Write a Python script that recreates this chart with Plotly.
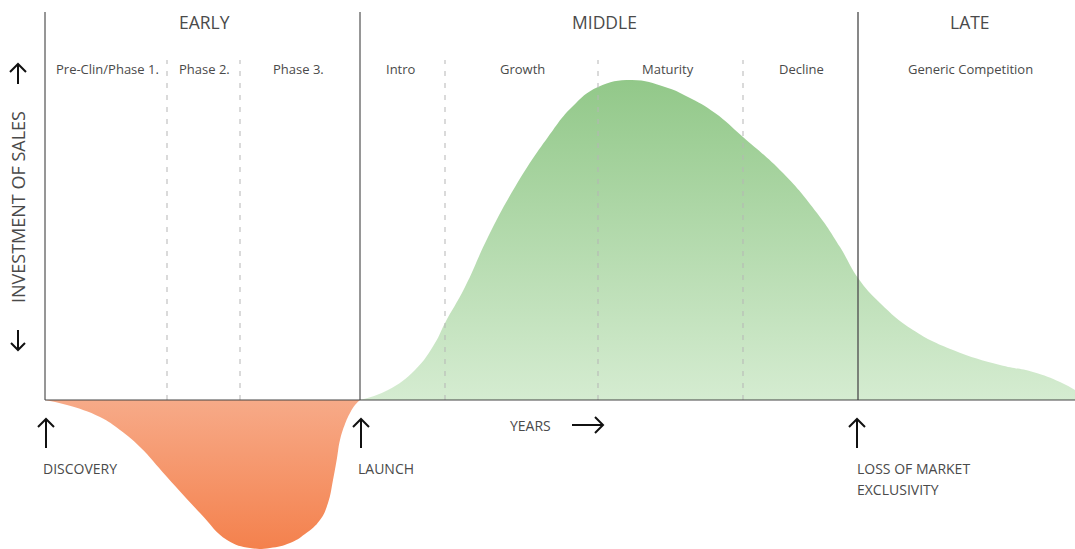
import plotly.graph_objects as go

W, H = 1075, 549
# coordinate convention: x in "time units" (0 = discovery), y in "value units" (0 = baseline)
X0_PX, Y0_PX, SC = 45, 400, 10.0

# ---- data ----
sales_x = [31.5, 34.3, 37.0, 39.0, 40.0, 42.0, 44.3, 47.0, 50.3, 52.7, 55.3, 58.7, 62.0, 64.3,
           67.0, 69.8, 73.8, 77.2, 79.5, 81.3, 83.5, 86.8, 90.8, 95.5, 98.8, 101.5, 103.0]
sales_y = [0.0, 1.0, 3.0, 5.7, 7.7, 11.3, 16.3, 21.3, 26.3, 29.3, 31.3, 32.0, 31.3, 30.3,
           28.7, 26.3, 22.7, 18.7, 15.3, 12.2, 9.7, 7.0, 5.0, 3.5, 2.8, 1.8, 1.0]

invest_x = [0.0, 2.2, 5.5, 7.5, 9.5, 12.2, 15.5, 18.2, 20.5, 22.5, 24.5, 26.0, 27.5, 28.3,
            28.8, 29.2, 29.5, 30.0, 30.5, 31.0, 31.5]
invest_y = [0.0, -0.5, -1.7, -3.0, -4.7, -7.7, -11.3, -14.0, -14.8, -14.8, -14.3, -13.4,
            -12.0, -10.3, -8.0, -5.8, -4.0, -2.4, -1.3, -0.5, 0.0]

phase_edges = [12.2, 19.5, 40.0, 55.3, 69.8]      # dashed sub-phase boundaries
stage_edges = [0.0, 31.5, 81.3]                   # solid stage boundaries
stage_names = ["EARLY", "MIDDLE", "LATE"]
stage_centers = [15.9, 55.9, 92.5]
sub_names = ["Pre-Clin/Phase 1.", "Phase 2.", "Phase 3.", "Intro", "Growth", "Maturity",
             "Decline", "Generic Competition"]
sub_centers = [6.2, 15.9, 25.3, 35.6, 47.7, 62.3, 75.6, 92.5]
x_end = 103.0


def px_x(px):
    return (px - X0_PX) / SC


def px_y(py):
    return (Y0_PX - py) / SC


FONT = "Open Sans"
TXT = "#4a4a4a"

fig = go.Figure()
fig.add_trace(go.Scatter(
    x=sales_x, y=sales_y, mode="lines", line=dict(width=0, shape="spline", smoothing=1.3),
    fill="tozeroy",
    fillgradient=dict(type="vertical", colorscale=[[0, "#d5ecd1"], [1, "#92c889"]]),
    hoverinfo="skip", showlegend=False))
fig.add_trace(go.Scatter(
    x=invest_x, y=invest_y, mode="lines", line=dict(width=0, shape="spline", smoothing=1.3),
    fill="tozeroy",
    fillgradient=dict(type="vertical", colorscale=[[0, "#f4814d"], [1, "#f7aa88"]]),
    hoverinfo="skip", showlegend=False))

shapes = []
top_y = px_y(12)
for i, xe in enumerate(stage_edges):
    shapes.append(dict(type="line", x0=xe, x1=xe, y0=0, y1=top_y, xref="x", yref="y",
                       line=dict(color="#555555" if i == 2 else "#2e2e2e", width=1.4 if i == 2 else 1),
                       layer="above"))
for xe in phase_edges:
    shapes.append(dict(type="line", x0=xe, x1=xe, y0=0, y1=px_y(60), xref="x", yref="y",
                       line=dict(color="#b5b5b5", width=1, dash="5px,7px"), layer="above"))
shapes.append(dict(type="line", x0=0, x1=x_end, y0=0, y1=0, xref="x", yref="y",
                   line=dict(color="#444444", width=1.2), layer="above"))


def arrow_up(px, py_top, py_bot):
    x = px_x(px)
    shapes.append(dict(type="line", x0=x, x1=x, y0=px_y(py_bot), y1=px_y(py_top),
                       xref="x", yref="y", line=dict(color="#111111", width=2)))
    shapes.append(dict(type="path", xref="x", yref="y",
                       path=f"M {px_x(px-8)},{px_y(py_top+8)} L {x},{px_y(py_top)} L {px_x(px+8)},{px_y(py_top+8)}",
                       line=dict(color="#111111", width=2)))


def arrow_down(px, py_top, py_bot):
    x = px_x(px)
    shapes.append(dict(type="line", x0=x, x1=x, y0=px_y(py_bot), y1=px_y(py_top),
                       xref="x", yref="y", line=dict(color="#111111", width=2)))
    shapes.append(dict(type="path", xref="x", yref="y",
                       path=f"M {px_x(px-7)},{px_y(py_bot-7)} L {x},{px_y(py_bot)} L {px_x(px+7)},{px_y(py_bot-7)}",
                       line=dict(color="#111111", width=2)))


def arrow_right(px_l, px_r, py):
    y = px_y(py)
    shapes.append(dict(type="line", x0=px_x(px_l), x1=px_x(px_r), y0=y, y1=y,
                       xref="x", yref="y", line=dict(color="#111111", width=2)))
    shapes.append(dict(type="path", xref="x", yref="y",
                       path=f"M {px_x(px_r-8)},{px_y(py-8)} L {px_x(px_r)},{y} L {px_x(px_r-8)},{px_y(py+8)}",
                       line=dict(color="#111111", width=2)))


arrow_up(46, 419, 448)
arrow_up(361, 419, 448)
arrow_up(857, 419, 448)
arrow_up(18, 64, 84)
arrow_down(18, 330, 350)
arrow_right(572, 603, 425)

ann = []
for name, cx in zip(stage_names, stage_centers):
    ann.append(dict(x=cx, y=px_y(22), text=name, showarrow=False, xref="x", yref="y",
                    font=dict(family=FONT, size=17.5, color=TXT)))
for name, cx in zip(sub_names, sub_centers):
    ann.append(dict(x=cx, y=px_y(69), text=name, showarrow=False, xref="x", yref="y",
                    font=dict(family=FONT, size=13, color=TXT)))
ann.append(dict(x=px_x(18), y=px_y(207), text="INVESTMENT OF SALES", textangle=-90,
                showarrow=False, xref="x", yref="y", font=dict(family=FONT, size=18, color=TXT)))
for txt, lx, ly in [("DISCOVERY", 41, 468), ("LAUNCH", 356, 468), ("LOSS OF MARKET", 855, 468),
                    ("EXCLUSIVITY", 855, 489), ("YEARS", 508, 425)]:
    ann.append(dict(x=px_x(lx), y=px_y(ly), text=txt, showarrow=False, xanchor="left",
                    xref="x", yref="y", font=dict(family=FONT, size=14, color=TXT)))

fig.update_layout(
    width=W, height=H, margin=dict(l=0, r=0, t=0, b=0),
    paper_bgcolor="white", plot_bgcolor="white",
    xaxis=dict(range=[px_x(0), px_x(W)], visible=False, fixedrange=True),
    yaxis=dict(range=[px_y(H), px_y(0)], visible=False, fixedrange=True),
    shapes=shapes, annotations=ann, showlegend=False,
)

fig.write_html("out.html", config={"displayModeBar": False},
               post_script="document.body.style.margin='0';")
